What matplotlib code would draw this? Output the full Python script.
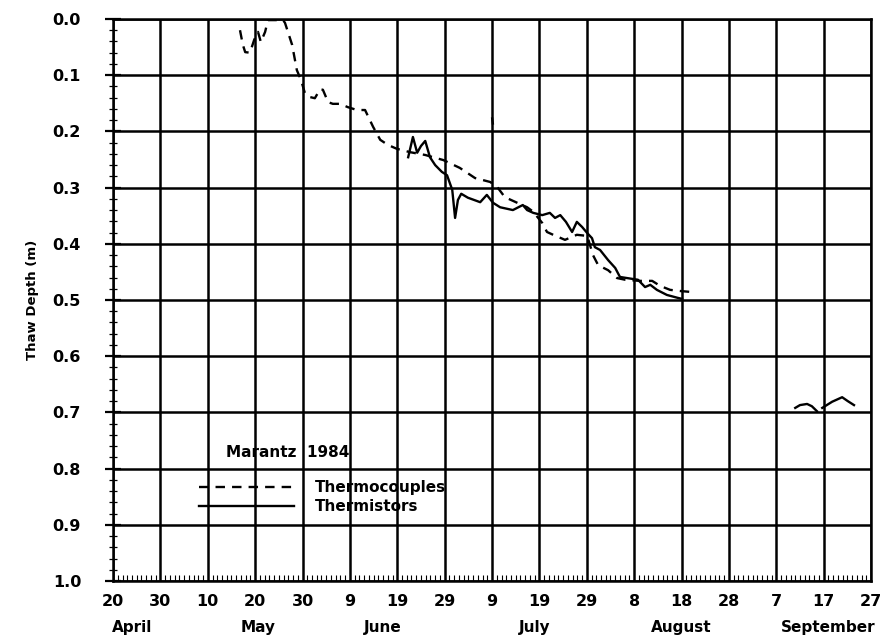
import numpy as np
import matplotlib
matplotlib.use("Agg")
from matplotlib import pyplot as plt
from matplotlib.ticker import MultipleLocator
from matplotlib.transforms import blended_transform_factory

plt.rcParams['font.family'] = ['DejaVu Sans']
plt.rcParams['font.weight'] = 'bold'

# time axis is days after 20 April 1984
tick_days = list(range(0, 161, 10))
tick_labels = ['20', '30', '10', '20', '30', '9', '19', '29', '9',
               '19', '29', '8', '18', '28', '7', '17', '27']
month_names = ['April', 'May', 'June', 'July', 'August', 'September']
month_pos = [4, 30.6, 57, 89, 120, 151]

# thermocouple thaw depth (m); nan splits separate pieces
tc_day = [26.8, 27.4, 27.9, 28.9, 29.8, 30.6, 31.2, 32.1, 32.7, 35.9,
          36.3, 37.8, 38.8, 39.7, 40.5, 41.6, 42.6, 43.7, 44.3, 45.4,
          46.4, 47.9, 49.6, 51.5, 53.2, 54.9, 56.4, 58.0, 59.9, 62.7,
          65.9, 69.7, 73.2, 76.4, 79.6, 81.1, 82.7, 85.3, 87.4, 88.7,
          90.6, 91.6, 92.9, 95.4, 97.9, 100.1, 101.3, 102.4, 104.5, 106.4,
          108.1, 111.2, 113.8, 115.5, 117.6, 119.7, 122.4,
          np.nan, 80.0, 80.2]
tc_depth = [0.020, 0.046, 0.059, 0.060, 0.037, 0.023, 0.041, 0.023, 0.002, 0.002,
            0.007, 0.046, 0.091, 0.109, 0.132, 0.139, 0.141, 0.125, 0.126, 0.148,
            0.151, 0.151, 0.157, 0.162, 0.162, 0.192, 0.215, 0.224, 0.231, 0.237,
            0.242, 0.251, 0.265, 0.283, 0.290, 0.299, 0.317, 0.327, 0.335, 0.343,
            0.363, 0.379, 0.384, 0.393, 0.384, 0.386, 0.420, 0.438, 0.447, 0.461,
            0.464, 0.466, 0.466, 0.475, 0.482, 0.484, 0.486,
            np.nan, 0.175, 0.188]

# thermistor thaw depth (m)
ts_day = [62.3, 63.3, 64.2, 65.0, 65.9, 66.9, 68.0, 69.4, 70.5, 71.6,
          72.2, 72.8, 73.5, 74.9, 77.5, 78.9, 80.2, 81.7, 84.4, 86.5,
          87.4, 88.7, 90.6, 92.2, 93.3, 94.4, 95.6, 96.9, 97.9, 99.0,
          100.1, 101.1, 101.7, 102.8, 104.5, 106.0, 107.0, 108.5, 110.8, 112.3,
          113.4, 114.8, 116.9, 119.1, 120.1,
          np.nan, 144.0, 145.0, 146.5, 147.5, 148.6,
          np.nan, 149.7, 151.8, 153.9, 155.1, 156.4]
ts_depth = [0.246, 0.210, 0.238, 0.226, 0.217, 0.246, 0.260, 0.272, 0.278, 0.304,
            0.354, 0.322, 0.311, 0.318, 0.326, 0.313, 0.327, 0.335, 0.340, 0.331,
            0.340, 0.345, 0.349, 0.345, 0.354, 0.349, 0.361, 0.379, 0.361, 0.370,
            0.381, 0.390, 0.406, 0.411, 0.429, 0.443, 0.459, 0.461, 0.464, 0.477,
            0.473, 0.482, 0.491, 0.496, 0.498,
            np.nan, 0.692, 0.687, 0.685, 0.689, 0.698,
            np.nan, 0.692, 0.681, 0.673, 0.680, 0.687]

fig = plt.figure(figsize=(8.9, 6.41), dpi=100)
ax = fig.add_axes([0.127, 0.0936, 0.8517, 0.8768])

ax.plot(tc_day, tc_depth, color='black', lw=1.7, dashes=(4, 3),
        label='Thermocouples')
ax.plot(ts_day, ts_depth, color='black', lw=1.7, label='Thermistors')

ax.set_xlim(0, 160)
ax.set_ylim(1.0, 0.0)

ax.set_xticks(tick_days)
ax.set_xticklabels(tick_labels, fontsize=11.5, fontweight='bold')
ax.xaxis.set_minor_locator(MultipleLocator(1))
ax.set_yticks(np.arange(0, 1.01, 0.1))
ax.set_yticklabels(['%.1f' % v for v in np.arange(0, 1.01, 0.1)],
                   fontsize=11.5, fontweight='bold')
ax.yaxis.set_minor_locator(MultipleLocator(0.02))

ax.tick_params(axis='x', which='major', direction='in', length=0, pad=9)
ax.tick_params(axis='x', which='minor', direction='in', length=4, width=0.8)
ax.tick_params(axis='y', which='major', direction='inout', length=12, width=1.6, pad=17)
ax.tick_params(axis='y', which='minor', direction='inout', length=6, width=0.9)

ax.grid(True, which='major', color='black', lw=1.8)
for s in ax.spines.values():
    s.set_linewidth(1.8)

ax.set_ylabel('Thaw Depth (m)', fontsize=9.5, fontweight='bold', labelpad=10)

trans = blended_transform_factory(ax.transData, ax.transAxes)
for name, pos in zip(month_names, month_pos):
    ax.text(pos, -0.082, name, transform=trans, ha='center', va='center',
            fontsize=11, fontweight='bold')

ax.text(0.231, 0.2295, 'Marantz  1984', transform=ax.transAxes,
        ha='center', va='center', fontsize=11, fontweight='bold')
ax.legend(loc='center left', bbox_to_anchor=(0.095, 0.149), frameon=False,
          handlelength=6.2, handletextpad=1.4, labelspacing=0.25,
          prop={'size': 11, 'weight': 'bold'})

fig.savefig('out.png', dpi=100)
